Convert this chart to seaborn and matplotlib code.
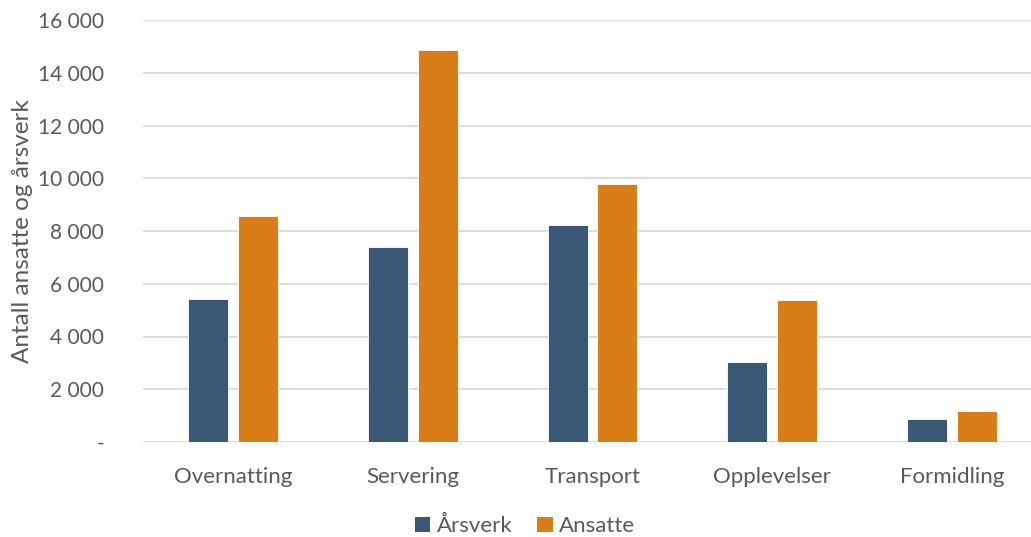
import matplotlib
matplotlib.use("Agg")
import matplotlib.pyplot as plt
from matplotlib.patches import Patch
from matplotlib.ticker import FuncFormatter
import pandas as pd
import seaborn as sns

categories = ["Overnatting", "Servering", "Transport", "Opplevelser", "Formidling"]
arsverk = [5410, 7405, 8215, 3045, 875]
ansatte = [8570, 14860, 9795, 5385, 1190]
series_names = ["Årsverk", "Ansatte"]
y_ticks = [0, 2000, 4000, 6000, 8000, 10000, 12000, 14000, 16000]

colors = {"Årsverk": "#3A5775", "Ansatte": "#D97E17"}
text_color = "#595959"

df = pd.DataFrame({
    "Kategori": categories * 2,
    "Serie": [series_names[0]] * len(categories) + [series_names[1]] * len(categories),
    "Verdi": arsverk + ansatte,
})

sns.set_theme(style="white")
plt.rcParams["font.family"] = ["Lato", "DejaVu Sans"]

fig = plt.figure(figsize=(10.31, 5.37), dpi=100)
ax = fig.add_axes([143 / 1031, 95 / 537, 899 / 1031, 422 / 537])

sns.barplot(
    data=df, x="Kategori", y="Verdi", hue="Serie", order=categories,
    hue_order=series_names, palette=colors, saturation=1, width=0.556, gap=0.2,
    edgecolor="white", linewidth=0.6, ax=ax, legend=False, zorder=3,
)

ax.set_xlim(-0.5, 4.5)
ax.set_ylim(0, 16000)
ax.set_yticks(y_ticks)
ax.yaxis.set_major_formatter(FuncFormatter(
    lambda v, _: "-" if v == 0 else f"{int(v):,}".replace(",", " ")))
ax.grid(axis="y", color="#D9D9D9", linewidth=1.3, zorder=0)
ax.set_axisbelow(True)
for s in ax.spines.values():
    s.set_visible(False)

ax.tick_params(axis="y", length=0, pad=28, labelsize=15, labelcolor=text_color)
ax.tick_params(axis="x", length=0, pad=18, labelsize=16, labelcolor=text_color)
ax.set_xlabel("")
ax.set_ylabel("Antall ansatte og årsverk", fontsize=17.5, color=text_color, va="center")
ax.yaxis.set_label_coords((22 - 143) / 899, 0.5)

handles = [Patch(facecolor=colors[n], edgecolor="none") for n in series_names]
fig.legend(handles, series_names, loc="center", bbox_to_anchor=(525 / 1031, 1 - 526 / 537),
           ncol=2, frameon=False, fontsize=16, labelcolor=text_color,
           handlelength=0.7, handleheight=0.7, handletextpad=0.3, columnspacing=1.1)

fig.savefig("out.png", dpi=100)
